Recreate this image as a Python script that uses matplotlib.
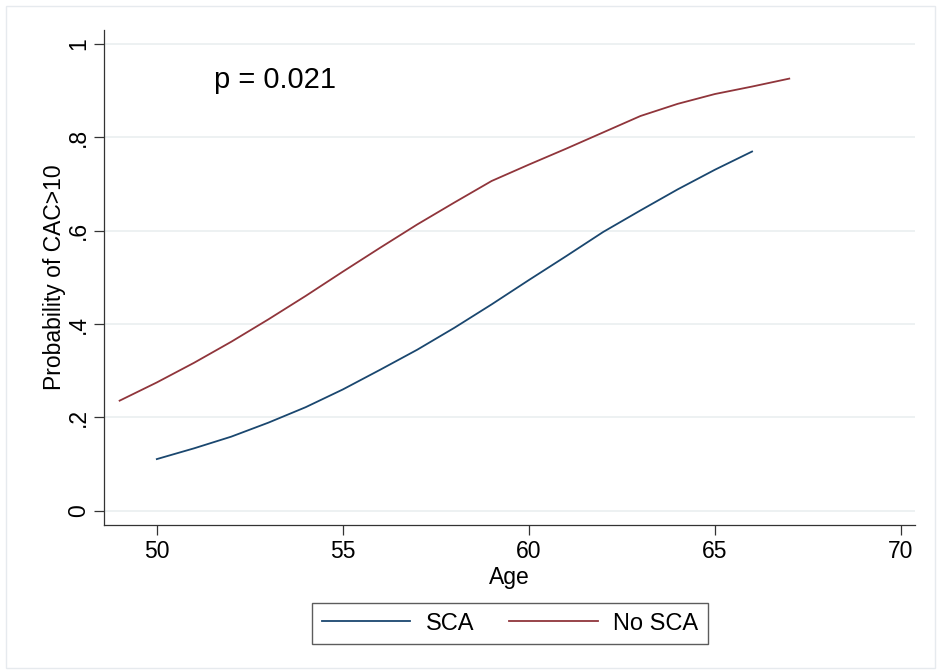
import matplotlib
matplotlib.use("Agg")
import matplotlib.pyplot as plt
from matplotlib.patches import Rectangle

plt.rcParams['font.family'] = ['Liberation Sans', 'DejaVu Sans']

age_sca = [50, 51, 52, 53, 54, 55, 56, 57, 58, 59, 60, 61, 62, 63, 64, 65, 66]
prob_sca = [0.111, 0.134, 0.159, 0.189, 0.222, 0.260, 0.302, 0.345, 0.392, 0.442,
            0.494, 0.545, 0.597, 0.643, 0.688, 0.730, 0.769]

age_nosca = [49, 50, 51, 52, 53, 54, 55, 56, 57, 58, 59, 60, 61, 62, 63, 64, 65, 66, 67]
prob_nosca = [0.236, 0.275, 0.317, 0.362, 0.410, 0.460, 0.512, 0.563, 0.613, 0.660,
              0.706, 0.741, 0.775, 0.810, 0.845, 0.871, 0.892, 0.908, 0.925]

xticks = [50, 55, 60, 65, 70]
yticks = [0, 0.2, 0.4, 0.6, 0.8, 1.0]
ytick_labels = ["0", ".2", ".4", ".6", ".8", "1"]

W, H = 942, 672
fig = plt.figure(figsize=(W / 100, H / 100), dpi=100)
fig.patch.set_facecolor('white')
fig.patches.append(Rectangle((6 / W, 1 - 668 / H), 929 / W, 662 / H, transform=fig.transFigure,
                             fill=False, edgecolor='#e6eaee', linewidth=1.0))

ax = fig.add_axes([104 / W, 1 - 525 / H, (915 - 104) / W, (525 - 30) / H])
ax.plot(age_sca, prob_sca, color='#1a476f', lw=1.3, label='SCA')
ax.plot(age_nosca, prob_nosca, color='#90353b', lw=1.3, label='No SCA')

ax.set_xlim(48.58, 70.38)
ax.set_ylim(-0.030, 1.029)
ax.set_xticks(xticks)
ax.set_xticklabels([str(x) for x in xticks], fontsize=16.5)
ax.set_yticks(yticks)
ax.set_yticklabels(ytick_labels, fontsize=16.5, rotation=90, va='center')
ax.tick_params(axis='both', length=7, width=0.9, color='#333333')
ax.tick_params(axis='x', pad=4)
ax.tick_params(axis='y', pad=3)
ax.grid(axis='y', color='#eaeff0', lw=1.2)
ax.set_axisbelow(True)
for s in ['top', 'right']:
    ax.spines[s].set_visible(False)
for s in ['left', 'bottom']:
    ax.spines[s].set_linewidth(0.9)
    ax.spines[s].set_color('#333333')

ax.set_xlabel('Age', fontsize=16.5, labelpad=2)
ax.set_ylabel('Probability of CAC>10', fontsize=16.5, labelpad=1)

ax.text(51.55, 0.923, 'p = 0.021', fontsize=21, va='center', ha='left')

leg = fig.legend(loc='center', bbox_to_anchor=(510 / W, 1 - 623.5 / H), ncol=2,
                 fontsize=17, handlelength=3.75, handletextpad=0.64, columnspacing=1.5,
                 frameon=True, fancybox=False, edgecolor='#333333', borderpad=0.4)
leg.get_frame().set_linewidth(1.0)

fig.savefig('out.png', dpi=100)
